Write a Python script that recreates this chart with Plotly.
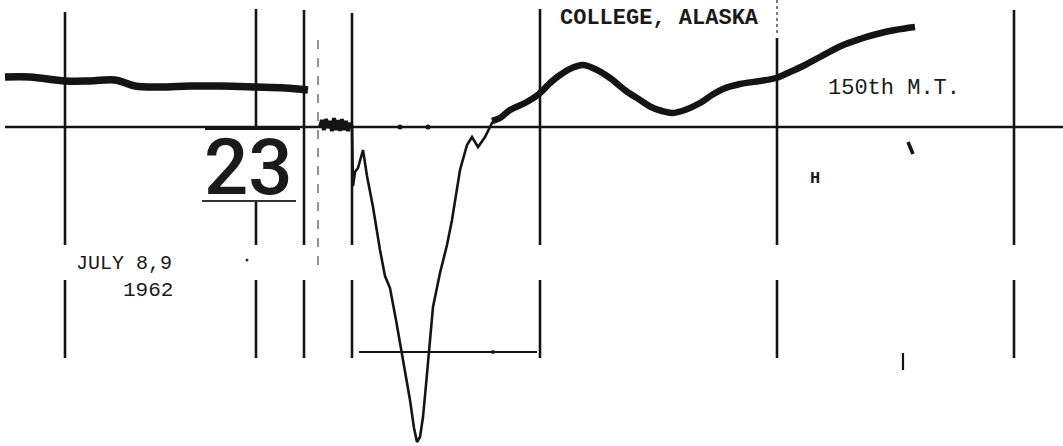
import plotly.graph_objects as go

# ---- data (chart units: px-like record coordinates) ----
hour_lines_x = [65, 256, 304, 352, 540, 777, 1014]
hour_lines_top = [12, 9, 10, 13, 9, 38, 10]

baseline_x = [5, 1063]
baseline_y = [127, 127]

pre_x = [5, 30, 65, 90, 115, 135, 160, 190, 220, 256, 285, 308]
pre_y = [77, 77, 81, 81, 80, 86, 87, 86, 86, 87, 88, 90]

noise_x = [320, 322, 324, 326, 328, 330, 332, 334, 336, 338, 340, 342, 344, 346, 348, 350, 352]
noise_y = [127, 120, 130, 119, 128, 121, 131, 118, 130, 120, 131, 119, 130, 121, 131, 123, 127]

storm_x = [352, 353, 355, 358, 363, 367, 373, 380, 385, 390, 396, 402, 410, 414, 417, 420, 423, 426,
           429, 433, 440, 447, 452, 456, 460, 467, 472, 478, 485, 492, 497]
storm_y = [127, 186, 172, 168, 150, 176, 207, 250, 276, 288, 320, 353, 400, 428, 442, 437, 417, 385,
           352, 307, 273, 245, 220, 195, 170, 145, 137, 147, 137, 123, 117]

rec_x = [492, 500, 510, 525, 539, 550, 560, 572, 583, 595, 610, 626, 640, 651, 662, 672, 685, 700,
         712, 723, 740, 760, 776, 790, 805, 820, 841, 860, 877, 895, 915]
rec_y = [121, 118, 110, 103, 94, 83, 75, 68, 65, 69, 78, 91, 100, 107, 111, 113, 110, 103,
         95, 89, 84, 81, 78, 72, 65, 57, 46, 39, 34, 30, 27]

scale_x = [359, 537]
scale_y = [352, 352]

ink = "#141414"

fig = go.Figure()

# vertical hour lines (broken where the label row sits; 256 broken by the "23")
vx, vy = [], []
for x, top in zip(hour_lines_x, hour_lines_top):
    if x == 256:
        segs = [(top, 127), (200, 245), (280, 358)]
    else:
        segs = [(top, 245), (280, 358)]
    for a, b in segs:
        vx += [x, x, None]
        vy += [a, b, None]
fig.add_trace(go.Scatter(x=vx, y=vy, mode="lines", line=dict(color=ink, width=2.6),
                         hoverinfo="skip", showlegend=False))

# dashed faint lines
fig.add_trace(go.Scatter(x=[318, 318], y=[40, 268], mode="lines",
                         line=dict(color="#666", width=1.4, dash="dash"), hoverinfo="skip", showlegend=False))
fig.add_trace(go.Scatter(x=[777, 777], y=[0, 36], mode="lines",
                         line=dict(color="#555", width=1.5, dash="dot"), hoverinfo="skip", showlegend=False))

# baseline
fig.add_trace(go.Scatter(x=baseline_x, y=baseline_y, mode="lines", line=dict(color=ink, width=2.6),
                         hoverinfo="skip", showlegend=False))
fig.add_trace(go.Scatter(x=[205, 300], y=[129, 129], mode="lines", line=dict(color=ink, width=2.2),
                         hoverinfo="skip", showlegend=False))
fig.add_trace(go.Scatter(x=[202, 296], y=[201, 201], mode="lines", line=dict(color="#333", width=1.8),
                         hoverinfo="skip", showlegend=False))

# scale bar at bottom
fig.add_trace(go.Scatter(x=scale_x, y=scale_y, mode="lines", line=dict(color=ink, width=2.2),
                         hoverinfo="skip", showlegend=False))
fig.add_trace(go.Scatter(x=[493], y=[352], mode="markers", marker=dict(color=ink, size=6, symbol="diamond-wide"),
                         hoverinfo="skip", showlegend=False))

# traces
fig.add_trace(go.Scatter(x=pre_x, y=pre_y, mode="lines", line=dict(color=ink, width=7.5, shape="spline"),
                         hoverinfo="skip", showlegend=False))
fig.add_trace(go.Scatter(x=noise_x, y=noise_y, mode="lines", line=dict(color=ink, width=4),
                         hoverinfo="skip", showlegend=False))
fig.add_trace(go.Scatter(x=storm_x, y=storm_y, mode="lines", line=dict(color=ink, width=2.6),
                         hoverinfo="skip", showlegend=False))
fig.add_trace(go.Scatter(x=rec_x, y=rec_y, mode="lines", line=dict(color=ink, width=6.5, shape="spline"),
                         hoverinfo="skip", showlegend=False))

# small stray marks
fig.add_trace(go.Scatter(x=[908, 913], y=[142, 154], mode="lines", line=dict(color=ink, width=3.5),
                         hoverinfo="skip", showlegend=False))
fig.add_trace(go.Scatter(x=[903, 903], y=[353, 370], mode="lines", line=dict(color=ink, width=2.2),
                         hoverinfo="skip", showlegend=False))
fig.add_trace(go.Scatter(x=[247], y=[260], mode="markers", marker=dict(color="#333", size=3),
                         hoverinfo="skip", showlegend=False))
fig.add_trace(go.Scatter(x=[400, 428], y=[127, 127], mode="markers", marker=dict(color=ink, size=5),
                         hoverinfo="skip", showlegend=False))

mono = "Liberation Mono, Courier New, monospace"
ann = [
    dict(x=659, y=18, text="<b>COLLEGE, ALASKA</b>", size=22),
    dict(x=894, y=88, text="150th M.T.", size=22),
    dict(x=815, y=178, text="<b>H</b>", size=17),
    dict(x=124, y=263, text="JULY 8,9", size=20),
    dict(x=148, y=290, text="1962", size=21),
]
for a in ann:
    fig.add_annotation(x=a["x"], y=a["y"], text=a["text"], showarrow=False, xanchor="center", yanchor="middle",
                       font=dict(family=mono, size=a["size"], color="#1a1a1a"))
fig.add_annotation(x=248, y=167, text="23", showarrow=False, xanchor="center", yanchor="middle",
                   font=dict(family="Roboto, Liberation Sans, Arial, sans-serif", size=78, color="#1a1a1a",
                             weight=500))

fig.update_layout(
    width=1063, height=446, margin=dict(l=0, r=0, t=0, b=0),
    paper_bgcolor="white", plot_bgcolor="white", showlegend=False,
    xaxis=dict(range=[0, 1063], visible=False, fixedrange=True),
    yaxis=dict(range=[446, 0], visible=False, fixedrange=True),
)
fig.write_html("out.html")
